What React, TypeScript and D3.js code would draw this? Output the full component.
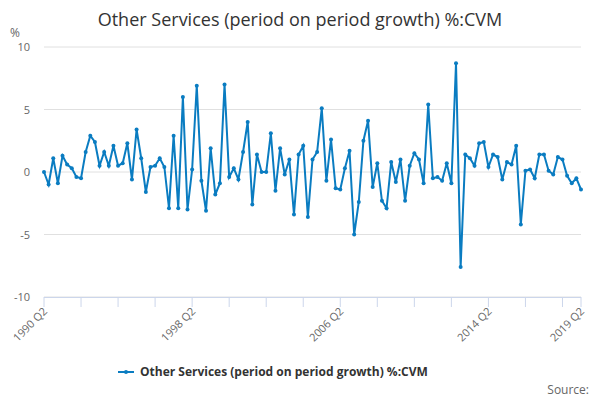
import React from "react";
import * as d3 from "d3";

const values = [
  0, -1, 1.1, -0.9, 1.3, 0.6, 0.3, -0.4, -0.5, 1.6,
  2.9, 2.4, 0.5, 1.6, 0.5, 2.1, 0.5, 0.7, 2.3, -0.6,
  3.4, 1.1, -1.6, 0.4, 0.5, 1.1, 0.4, -2.9, 2.9, -2.9,
  6.0, -3.0, 0.2, 6.9, -0.7, -3.1, 1.9, -1.8, -0.9, 7.0,
  -0.4, 0.3, -0.6, 1.6, 4.0, -2.6, 1.4, 0, 0, 3.1,
  -1.5, 1.9, -0.2, 1.0, -3.4, 1.4, 2.1, -3.6, 1.0, 1.6,
  5.1, -0.7, 2.6, -1.3, -1.4, 0.3, 1.7, -5.0, -2.4, 2.5,
  4.1, -1.2, 0.7, -2.3, -2.9, 0.8, -0.8, 1.0, -2.3, 0.5,
  1.5, 1.0, -0.9, 5.4, -0.5, -0.4, -0.7, 0.7, -0.9, 8.7,
  -7.6, 1.4, 1.1, 0.5, 2.3, 2.4, 0.4, 1.4, 1.2, -0.6,
  0.8, 0.6, 2.1, -4.2, 0.1, 0.2, -0.5, 1.4, 1.4, 0.1,
  -0.2, 1.2, 1.0, -0.3, -0.9, -0.5, -1.4,
];
const periods = values.map((_, i) => {
  const q = 1 + i; // 1990 Q2 is index 0
  return `${1990 + Math.floor(q / 4)} Q${(q % 4) + 1}`;
});
const labelled = ["1990 Q2", "1998 Q2", "2006 Q2", "2014 Q2", "2019 Q2"];
const yTicks = [-10, -5, 0, 5, 10];
const seriesName = "Other Services (period on period growth) %:CVM";
const color = "#0a7cc1";
const font = "'Open Sans', 'DejaVu Sans', sans-serif";

export default function App() {
  const width = 600, height = 400;
  const x = d3.scaleLinear().domain([0, values.length - 1]).range([44, 581]);
  const y = d3.scaleLinear().domain([-10, 10]).range([297, 47]);
  const line = d3.line<number>().x((d, i) => x(i)).y((d) => y(d));
  const tickIdx = d3.range(0, values.length, 8);

  return (
    <svg width={width} height={height} style={{ position: "absolute", left: 0, top: 0, fontFamily: font }}>
      <text x={300} y={26} textAnchor="middle" fontSize={18} fill="#333">Other Services (period on period growth) %:CVM</text>
      <text x={10} y={37} fontSize={12} fill="#666">%</text>
      {yTicks.map((t) => (
        <g key={t}>
          <line x1={44} x2={581} y1={y(t)} y2={y(t)} stroke="#e0e0e0" />
          <text x={30} y={y(t) + 4} textAnchor="end" fontSize={11} fill="#666">{t}</text>
        </g>
      ))}
      <line x1={44} x2={581} y1={297.5} y2={297.5} stroke="#ccd6eb" />
      {tickIdx.concat([values.length - 1]).map((i) => (
        <line key={i} x1={x(i)} x2={x(i)} y1={297} y2={307} stroke="#ccd6eb" />
      ))}
      {periods.map((p, i) =>
        labelled.includes(p) ? (
          <text key={p} transform={`translate(${x(i) + 4},${312}) rotate(-45)`} textAnchor="end" fontSize={11} fill="#666">{p}</text>
        ) : null
      )}
      <path d={line(values) || ""} fill="none" stroke={color} strokeWidth={2} />
      {values.map((v, i) => (
        <circle key={i} cx={x(i)} cy={y(v)} r={2} fill={color} />
      ))}
      <line x1={118} x2={134} y1={372} y2={372} stroke={color} strokeWidth={2} />
      <circle cx={126} cy={372} r={2} fill={color} />
      <text x={140} y={376} fontSize={12} fontWeight="bold" fill="#333">{seriesName}</text>
      <text x={589} y={394} textAnchor="end" fontSize={12} fill="#666">Source:</text>
    </svg>
  );
}
